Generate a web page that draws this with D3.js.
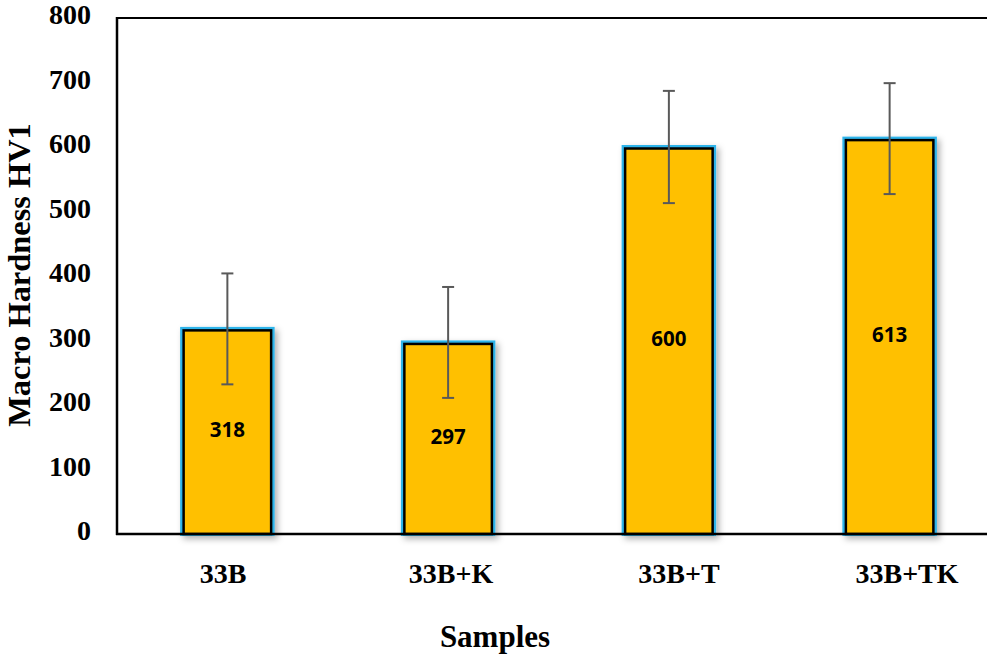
<!DOCTYPE html>
<html lang="en">
<head>
<meta charset="UTF-8">
<title>Macro Hardness</title>
<script src="https://cdn.jsdelivr.net/npm/d3@7"></script>
<style>
  body { margin: 0; background: #fff; }
</style>
</head>
<body>
<script>
    // data
    var samples = ['33B', '33B+K', '33B+T', '33B+TK']
    var hardness = [318, 297, 600, 613]
    var errors = [86, 86, 87, 86]
    var yTicks = [0, 100, 200, 300, 400, 500, 600, 700, 800]

    var width = 987
        height = 662
        margin = { top: 18, right: -13, bottom: 128, left: 117 }

    var svg = d3.select('body')
        .append('svg')
        .attr('width', width)
        .attr('height', height)

    var defs = svg.append('defs')
    var f = defs.append('filter').attr('id', 'shadow')
        .attr('x', '-20%').attr('y', '-20%').attr('width', '140%').attr('height', '140%')
    f.append('feDropShadow')
        .attr('dx', 3).attr('dy', 3).attr('stdDeviation', 3)
        .attr('flood-color', '#000').attr('flood-opacity', 0.3)

    var xScale = d3.scaleBand()
        .domain(samples)
        .range([margin.left, width - margin.right])
        .paddingInner(0.59)
        .paddingOuter(0.295)

    // category labels sit on their own, slightly wider spacing
    var labelScale = d3.scalePoint()
        .domain(samples)
        .range([223, 907])

    var yScale = d3.scaleLinear()
        .domain([0, 800])
        .range([height - margin.bottom, margin.top])

    // top border line
    svg.append('line')
        .attr('x1', margin.left).attr('x2', width)
        .attr('y1', yScale(800)).attr('y2', yScale(800))
        .attr('stroke', '#000').attr('stroke-width', 2)

    // bars
    var bars = svg.selectAll('g.bar')
        .data(samples)
        .enter()
        .append('g')
        .attr('class', 'bar')

    bars.append('rect')
        .attr('x', d => xScale(d))
        .attr('width', xScale.bandwidth())
        .attr('y', (d, i) => yScale(hardness[i]))
        .attr('height', (d, i) => yScale(0) - yScale(hardness[i]))
        .attr('fill', '#FFC000')
        .attr('stroke', '#2FB4EA')
        .attr('stroke-width', 4)
        .attr('filter', 'url(#shadow)')

    bars.append('rect')
        .attr('x', d => xScale(d) + 1.5)
        .attr('width', xScale.bandwidth() - 3)
        .attr('y', (d, i) => yScale(hardness[i]) + 1.5)
        .attr('height', (d, i) => yScale(0) - yScale(hardness[i]) - 1.5)
        .attr('fill', '#FFC000')
        .attr('stroke', '#000')
        .attr('stroke-width', 2.5)

    // value labels
    bars.append('text')
        .attr('x', d => xScale(d) + xScale.bandwidth() / 2)
        .attr('y', (d, i) => yScale(hardness[i] / 2))
        .attr('text-anchor', 'middle')
        .attr('dominant-baseline', 'middle')
        .style('font-family', '"Open Sans", "Liberation Sans", sans-serif')
        .style('font-weight', 'bold')
        .style('font-size', '20.5px')
        .attr('fill', '#000')
        .text((d, i) => hardness[i])

    // error bars
    var ex = d => xScale(d) + xScale.bandwidth() / 2
    bars.append('line')
        .attr('x1', ex).attr('x2', ex)
        .attr('y1', (d, i) => yScale(hardness[i] + errors[i]))
        .attr('y2', (d, i) => yScale(hardness[i] - errors[i]))
        .attr('stroke', '#595959').attr('stroke-width', 2)
    bars.selectAll('line.cap')
        .data((d, i) => [hardness[i] + errors[i], hardness[i] - errors[i]].map(v => ({ d: d, v: v })))
        .enter()
        .append('line')
        .attr('class', 'cap')
        .attr('x1', c => ex(c.d) - 6).attr('x2', c => ex(c.d) + 6)
        .attr('y1', c => yScale(c.v)).attr('y2', c => yScale(c.v))
        .attr('stroke', '#595959').attr('stroke-width', 2)

    // axes lines
    svg.append('line')
        .attr('x1', margin.left).attr('x2', margin.left)
        .attr('y1', yScale(800) - 1).attr('y2', yScale(0) + 1)
        .attr('stroke', '#000').attr('stroke-width', 2.5)
    svg.append('line')
        .attr('x1', margin.left - 1).attr('x2', width)
        .attr('y1', yScale(0)).attr('y2', yScale(0))
        .attr('stroke', '#000').attr('stroke-width', 2.5)

    var serif = '"Liberation Serif", "Times New Roman", serif'

    // y tick labels
    svg.selectAll('text.ytick')
        .data(yTicks)
        .enter()
        .append('text')
        .attr('class', 'ytick')
        .attr('x', 91)
        .attr('y', d => yScale(d))
        .attr('text-anchor', 'end')
        .attr('dominant-baseline', 'middle')
        .style('font-family', serif)
        .style('font-weight', 'bold')
        .style('font-size', '28px')
        .text(d => d)

    // x tick labels
    svg.selectAll('text.xtick')
        .data(samples)
        .enter()
        .append('text')
        .attr('class', 'xtick')
        .attr('x', d => labelScale(d))
        .attr('y', 577)
        .attr('text-anchor', 'middle')
        .attr('dominant-baseline', 'middle')
        .style('font-family', serif)
        .style('font-weight', 'bold')
        .style('font-size', '28px')
        .text(d => d)

    // axis titles
    svg.append('text')
        .attr('x', 495)
        .attr('y', 640)
        .attr('text-anchor', 'middle')
        .attr('dominant-baseline', 'middle')
        .style('font-family', serif)
        .style('font-weight', 'bold')
        .style('font-size', '31px')
        .text('Samples')

    svg.append('text')
        .attr('transform', 'translate(23,' + 275 + ') rotate(-90)')
        .attr('text-anchor', 'middle')
        .attr('dominant-baseline', 'middle')
        .style('font-family', serif)
        .style('font-weight', 'bold')
        .style('font-size', '32.4px')
        .text('Macro Hardness HV1')
</script>
</body>
</html>
